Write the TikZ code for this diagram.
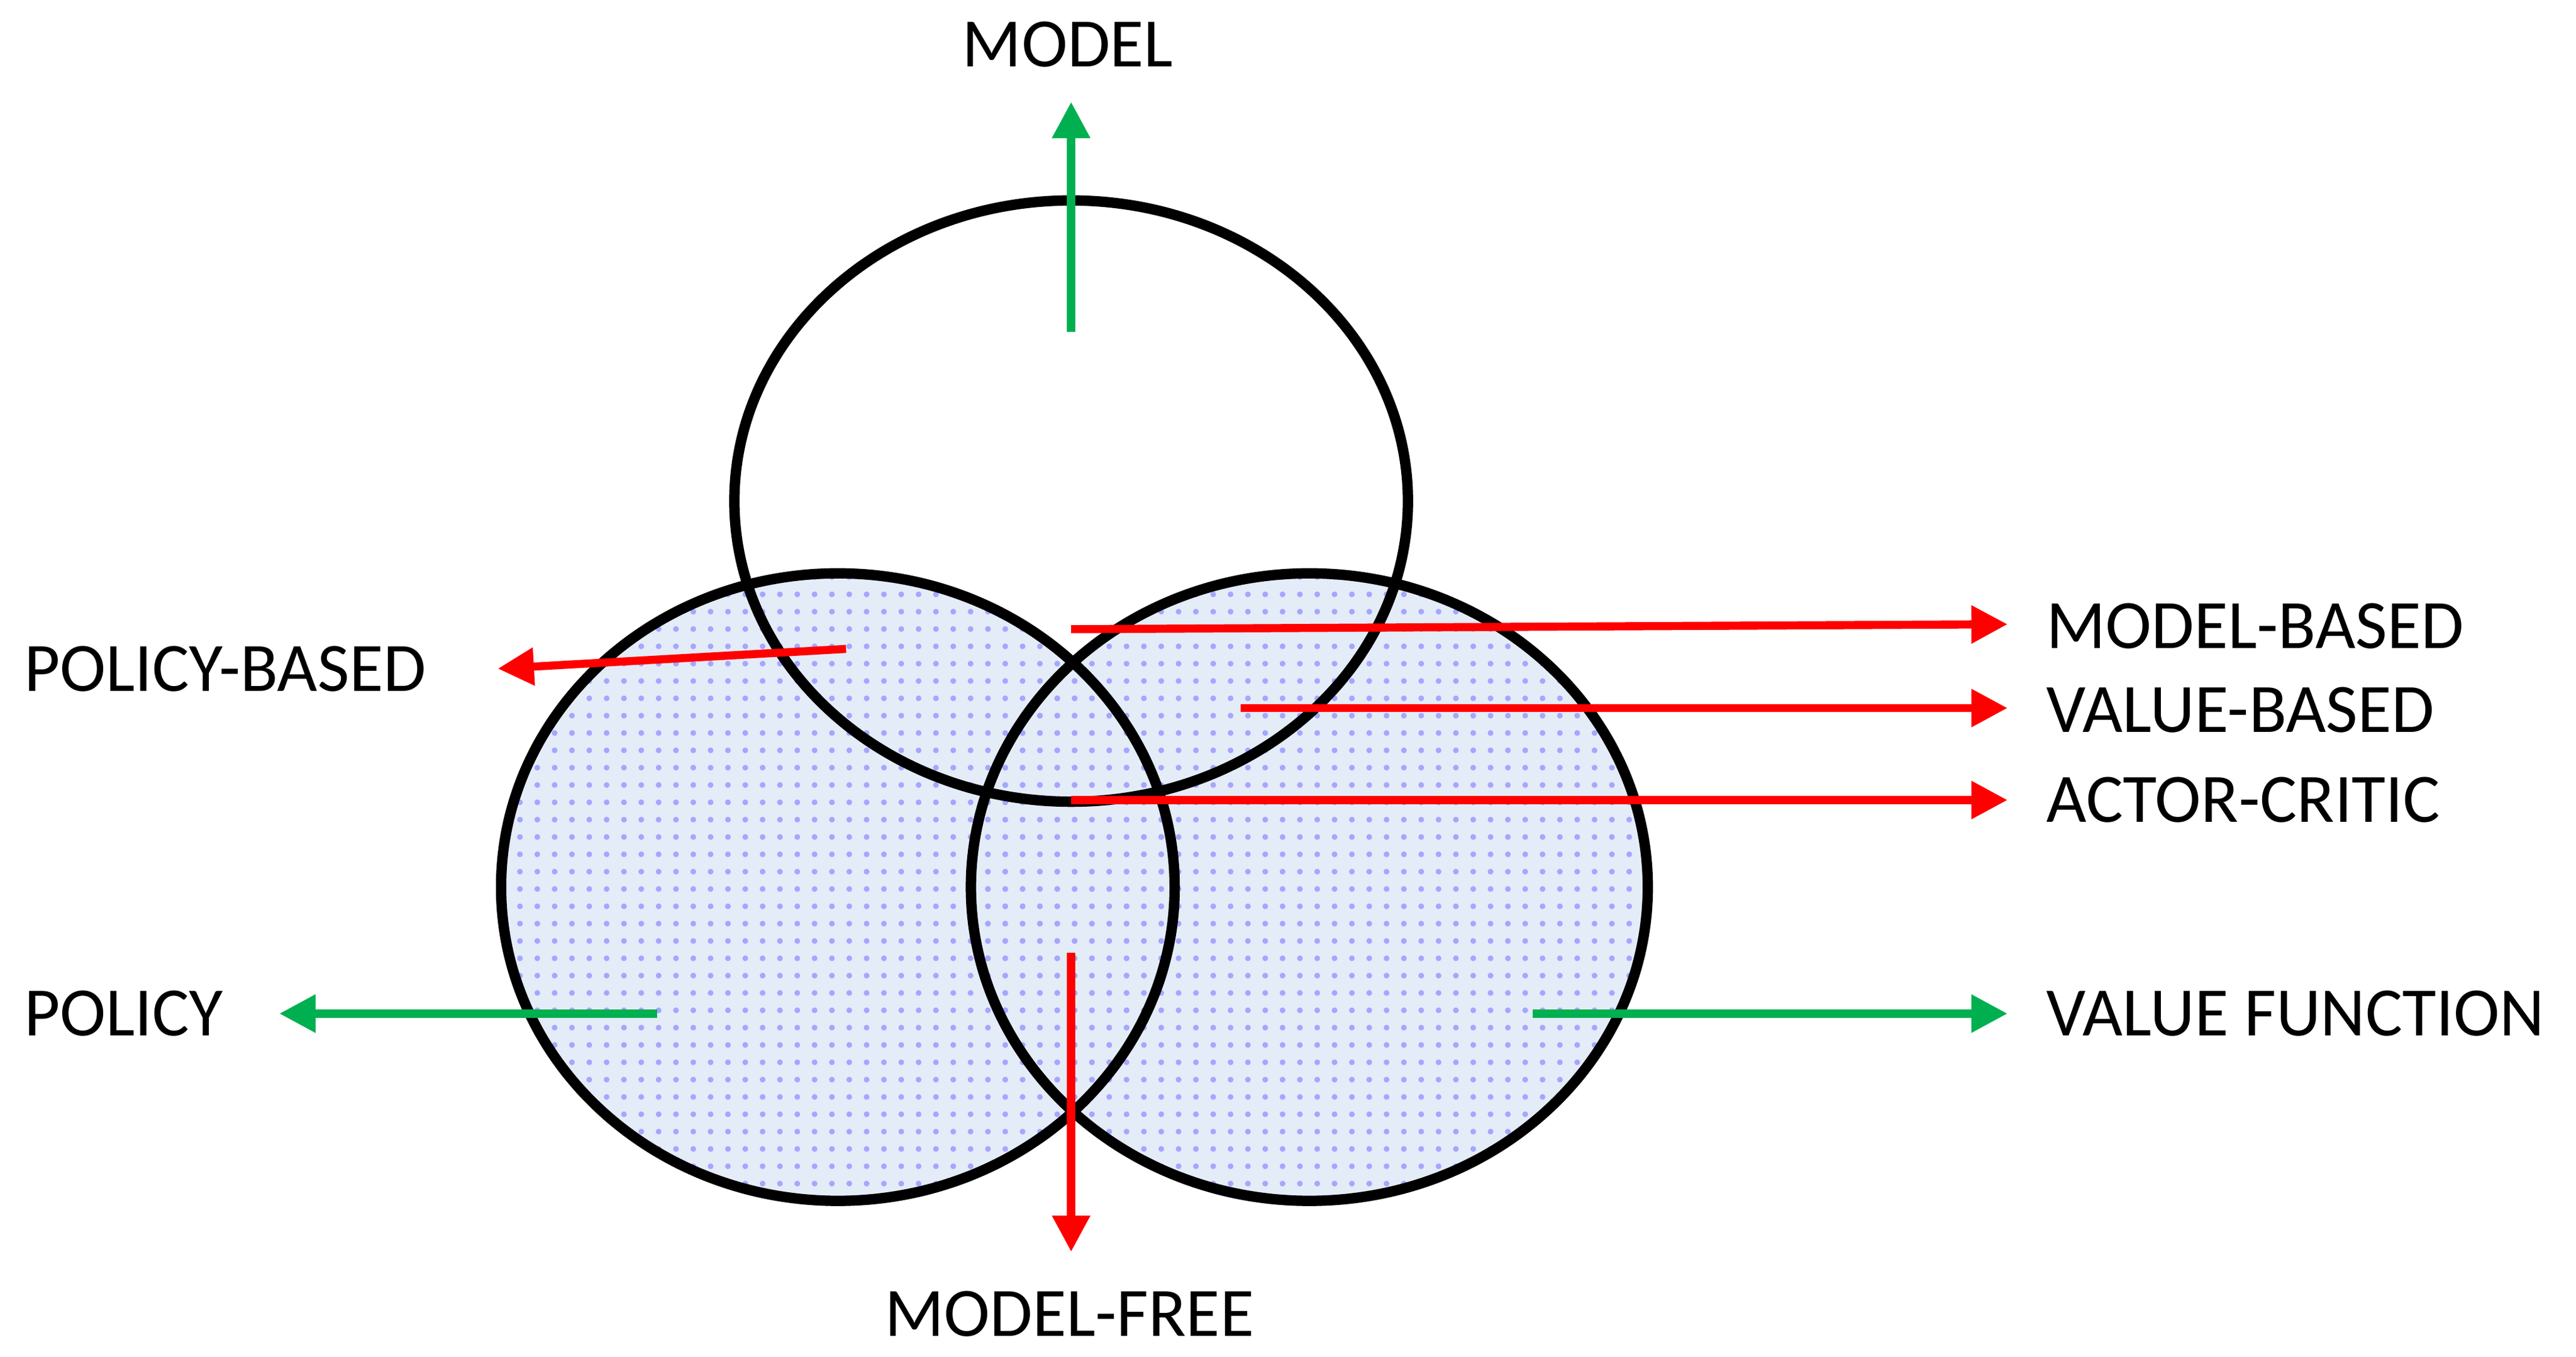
\documentclass[tikz,border=0pt]{standalone}
\usepackage{fontspec}
\setmainfont{Carlito}
\usetikzlibrary{arrows.meta,patterns}
\definecolor{lblue}{RGB}{228,236,248}
\definecolor{rred}{RGB}{255,0,0}
\definecolor{ggreen}{RGB}{0,176,80}
\begin{document}
\begin{tikzpicture}[x=0.01cm,y=-0.01cm,
  circ/.style={line width=1.8pt,draw=black},
  arr/.style={line width=1.4pt,-{Triangle[length=0.22cm,width=0.22cm]}},
  red arr/.style={arr,draw=rred,fill=rred},
  green arr/.style={arr,draw=ggreen,fill=ggreen},
  lab/.style={font=\fontsize{12pt}{14pt}\selectfont,inner sep=0pt}]
\useasboundingbox (0,0) rectangle (1568,826);
\fill[lblue] (510,540) ellipse [x radius=205,y radius=191];
\fill[lblue] (797,540) ellipse [x radius=206,y radius=191];
\fill[pattern=dots,pattern color=blue!35] (510,540) ellipse [x radius=205,y radius=191];
\fill[pattern=dots,pattern color=blue!35] (797,540) ellipse [x radius=206,y radius=191];
\draw[circ] (652,305) ellipse [x radius=205,y radius=183];
\draw[circ] (510,540) ellipse [x radius=205,y radius=191];
\draw[circ] (797,540) ellipse [x radius=206,y radius=191];

\coordinate (m0) at (652,202); \coordinate (m1) at (652,62);
\coordinate (pb0) at (515,395); \coordinate (pb1) at (303,407);
\coordinate (mb0) at (652,383); \coordinate (mb1) at (1222,380);
\coordinate (vb0) at (755,431); \coordinate (vb1) at (1222,431);
\coordinate (ac0) at (652,487); \coordinate (ac1) at (1222,487);
\coordinate (p0) at (400,617); \coordinate (p1) at (170,617);
\coordinate (vf0) at (933,617); \coordinate (vf1) at (1222,617);
\coordinate (mf0) at (652,580); \coordinate (mf1) at (652,762);

\draw[green arr] (m0) -- (m1);
\draw[red arr] (pb0) -- (pb1);
\draw[red arr] (mb0) -- (mb1);
\draw[red arr] (vb0) -- (vb1);
\draw[red arr] (ac0) -- (ac1);
\draw[green arr] (p0) -- (p1);
\draw[green arr] (vf0) -- (vf1);
\draw[red arr] (mf0) -- (mf1);

\node[lab] (tm) at (650,27) {MODEL};
\node[lab,anchor=west] (tpb) at (14,407) {POLICY-BASED};
\node[lab,anchor=west] (tmb) at (1245,381) {MODEL-BASED};
\node[lab,anchor=west] (tvb) at (1245,432) {VALUE-BASED};
\node[lab,anchor=west] (tac) at (1245,487) {ACTOR-CRITIC};
\node[lab,anchor=west] (tp) at (14,617) {POLICY};
\node[lab,anchor=west] (tvf) at (1245,617) {VALUE FUNCTION};
\node[lab] (tmf) at (651,800) {MODEL-FREE};
\end{tikzpicture}
\end{document}
